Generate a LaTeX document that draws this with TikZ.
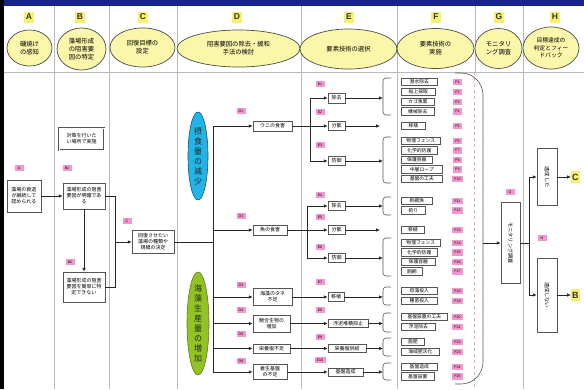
\documentclass[tikz,border=0pt]{standalone}
\usepackage{fontspec}
\setmainfont{Noto Sans CJK JP}
\newfontfamily\latinsans{Liberation Sans}
\usetikzlibrary{arrows.meta,shapes.geometric}
\definecolor{hdrblue}{RGB}{25,35,140}
\definecolor{ellyel}{RGB}{250,246,170}
\definecolor{tagyel}{RGB}{246,240,110}
\definecolor{tagpink}{RGB}{242,150,205}
\definecolor{gridgray}{RGB}{185,185,185}
\definecolor{boxgray}{RGB}{85,85,85}
\definecolor{bluefill}{RGB}{35,180,230}
\definecolor{blueline}{RGB}{20,80,150}
\definecolor{greenfill}{RGB}{145,195,35}
\definecolor{greenline}{RGB}{90,125,20}
\definecolor{pinkdash}{RGB}{240,160,200}
\begin{document}
\begin{tikzpicture}[x=1pt,y=-1pt,
  hdrell/.style={ellipse, draw=black!70, line width=0.7pt, fill=ellyel, inner sep=0pt, align=center, font=\fontsize{6.3}{8}\selectfont},
  hdrtag/.style={fill=tagyel, inner sep=0pt, minimum width=10pt, minimum height=11pt, font=\latinsans\bfseries\fontsize{8.5}{8.5}\selectfont, text=black!80},
  box/.style={draw=boxgray, line width=0.6pt, fill=white, inner sep=0.5pt, align=center, font=\fontsize{5}{6}\selectfont},
  fbox/.style={box, anchor=west, minimum height=7.5pt, font=\fontsize{4.8}{5.5}\selectfont},
  ptag/.style={fill=tagpink, inner sep=0pt, minimum width=9pt, minimum height=6.5pt, font=\latinsans\fontsize{3.6}{3.6}\selectfont},
  arr/.style={-{Latex[length=3.8pt,width=3.3pt]}, line width=0.6pt, draw=black!85},
  conn/.style={line width=0.6pt, draw=black!85},
  brk/.style={line width=0.6pt, draw=boxgray, rounded corners=3pt},
  vtext/.style={align=center, font=\fontsize{8}{10}\selectfont, text=black!85, inner sep=0pt},
  rottext/.style={rotate=-90, font=\fontsize{5.2}{6}\selectfont, inner sep=0pt},
  endlet/.style={fill=tagyel, inner sep=1pt, minimum height=12pt, anchor=west, font=\latinsans\bfseries\fontsize{9}{9}\selectfont, text=black!80}
]
\useasboundingbox (0,0) rectangle (584,389);
\fill[white] (0,0) rectangle (584,389);
\fill[hdrblue] (0,0) rectangle (584,6);
% grid
\foreach \x in {54,109,177,301,397,523} \draw[gridgray, line width=0.6pt] (\x,6) -- (\x,389);
\draw[gridgray, line width=0.6pt] (475,6) -- (475,72);
\draw[pinkdash, dashed, line width=0.6pt] (474,72) -- (474,389);
\draw[gridgray, line width=0.6pt] (4,72) -- (584,72);
\fill[black] (0,0) rectangle (4,389);

% header
\node[hdrtag] (tA) at (29,17) {A};
\node[hdrtag] (tB) at (80,17) {B};
\node[hdrtag] (tC) at (143,17) {C};
\node[hdrtag] (tD) at (237,17) {D};
\node[hdrtag] (tE) at (349,17) {E};
\node[hdrtag] (tF) at (436,17) {F};
\node[hdrtag] (tG) at (499,17) {G};
\node[hdrtag] (tH) at (555,17) {H};
\node[hdrell, minimum width=45pt, minimum height=36pt] (hA) at (29.5,48) {磯焼け\\の感知};
\node[hdrell, minimum width=49pt, minimum height=42pt] (hB) at (81.5,49) {藻場形成\\の阻害要\\因の特定};
\node[hdrell, minimum width=65pt, minimum height=39pt] (hC) at (142.5,47.5) {回復目標の\\設定};
\node[hdrell, minimum width=123pt, minimum height=37pt] (hD) at (238.5,48.5) {阻害要因の除去・緩和\\手法の検討};
\node[hdrell, minimum width=97pt, minimum height=40pt] (hE) at (348.5,49) {要素技術の選択};
\node[hdrell, minimum width=77pt, minimum height=40pt] (hF) at (435.5,48.5) {要素技術の\\実施};
\node[hdrell, minimum width=47pt, minimum height=40pt] (hG) at (498.5,48.5) {モニタリ\\ング調査};
\node[hdrell, minimum width=56pt, minimum height=42pt, font=\fontsize{5.8}{7.5}\selectfont] (hH) at (551,48) {目標達成の\\判定とフィー\\ドバック};

% A, B, C columns
\node[ptag] (pA) at (19,168) {A};
\node[box, minimum width=34pt, minimum height=32pt] (Abox) at (24,196) {藻場の衰退\\が継続して\\認められる};
\node[box, double, double distance=0.7pt, minimum width=45pt, minimum height=22pt] (note) at (81.5,139) {対策を行いた\\い場所で実施};
\node[ptag] (pB1) at (67,168) {B1};
\node[box, minimum width=42pt, minimum height=26pt] (B1) at (84,196) {藻場形成の阻害\\要因が明確であ\\る};
\node[ptag] (pB2) at (70,262) {B2};
\node[box, minimum width=42pt, minimum height=30pt] (B2) at (84,287) {藻場形成の阻害\\要因を簡単に特\\定できない};
\node[ptag] (pC) at (127,221) {C};
\node[box, minimum width=42pt, minimum height=23pt] (Cbox) at (153,242) {回復させたい\\藻場の種類や\\規模の決定};
\coordinate (cj) at (115,242);
\draw[arr] (Abox.east) -- (B1.west);
\draw[arr] (B1.south) -- (B2.north);
\draw[conn] (B1.east) -| (cj);
\draw[conn] (B2.east) -| (cj);
\draw[arr] (cj) -- (Cbox.west);

% D column
\node[ellipse, draw=blueline, fill=bluefill, line width=0.6pt, minimum width=20pt, minimum height=88pt, inner sep=0pt] (ellB) at (198,156) {};
\node[vtext] (ellBt) at (ellB) {摂\\食\\量\\の\\減\\少};
\node[ellipse, draw=greenline, fill=greenfill, line width=0.6pt, minimum width=22pt, minimum height=103pt, inner sep=0pt] (ellG) at (198,323.5) {};
\node[vtext] (ellGt) at (ellG) {海\\藻\\生\\産\\量\\の\\増\\加};

\node[ptag] (pD1) at (241,111) {D1};
\node[box, minimum width=39pt, minimum height=10pt] (D1) at (272.5,126) {ウニの食害};
\node[ptag] (pD2) at (241,216) {D2};
\node[box, minimum width=34pt, minimum height=10pt] (D2) at (270,230) {魚の食害};
\node[ptag] (pD3) at (241,285) {D3};
\node[box, minimum width=39pt, minimum height=17pt] (D3) at (272.5,297) {海藻のタネ\\不足};
\node[ptag] (pD4) at (241,310) {D4};
\node[box, minimum width=37pt, minimum height=17pt] (D4) at (271.5,323.5) {競合生物の\\増加};
\node[ptag] (pD5) at (241,334) {D5};
\node[box, minimum width=37pt, minimum height=9pt] (D5) at (271.5,348.5) {栄養塩不足};
\node[ptag] (pD6) at (241,361) {D6};
\node[box, minimum width=34pt, minimum height=15pt] (D6) at (270,372) {着生基盤\\の不足};

\coordinate (dj) at (213,242);
\coordinate (dtop) at (213,126);
\coordinate (dbot) at (213,372);
\draw[conn] (Cbox.east) -- (dj);
\draw[conn] (dtop) -- (dbot);
\draw[arr] (dtop) -- (D1.west);
\draw[arr] (D2.west -| dtop) -- (D2.west);
\draw[arr] (D3.west -| dtop) -- (D3.west);
\draw[arr] (D4.west -| dtop) -- (D4.west);
\draw[arr] (D5.west -| dtop) -- (D5.west);
\draw[arr] (dbot) -- (D6.west);

% E column
\node[ptag] (pE1) at (320,84) {E1};
\node[box, minimum width=17pt, minimum height=10pt] (E1) at (336.5,98) {除去};
\node[ptag] (pE2) at (320,112) {E2};
\node[box, minimum width=17pt, minimum height=9pt] (E2) at (336.5,126) {分散};
\node[ptag] (pE3) at (320,145) {E3};
\node[box, minimum width=17pt, minimum height=9pt] (E3) at (336.5,161) {防御};
\node[ptag] (pE4) at (320,195) {E4};
\node[box, minimum width=17pt, minimum height=9pt] (E4) at (336.5,206) {除去};
\node[ptag] (pE5) at (320,217) {E5};
\node[box, minimum width=17pt, minimum height=9pt] (E5) at (336.5,230) {分散};
\node[ptag] (pE6) at (320,247) {E6};
\node[box, minimum width=17pt, minimum height=9pt] (E6) at (336.5,258) {防御};
\node[ptag] (pE7) at (320,282) {E7};
\node[box, minimum width=16pt, minimum height=9pt] (E7) at (336,297) {移植};
\node[ptag] (pE8) at (320,310) {E8};
\node[box, minimum width=40pt, minimum height=8pt] (E8) at (348,323.5) {浮泥堆積抑止};
\node[ptag] (pE9) at (320,337) {E9};
\node[box, minimum width=38pt, minimum height=8pt] (E9) at (347,348.5) {栄養塩供給};
\node[ptag, minimum width=11pt] (pE10) at (320,360) {E10};
\node[box, minimum width=35pt, minimum height=8pt] (E10) at (345.5,372) {基盤造成};

\coordinate (ex1) at (310,0);
\coordinate (ex2) at (307,0);
\draw[arr] (D1.east) -- (E2.west);
\draw[conn] (E1.west -| ex1) -- (E3.west -| ex1);
\draw[arr] (E1.west -| ex1) -- (E1.west);
\draw[arr] (E3.west -| ex1) -- (E3.west);
\draw[arr] (D2.east) -- (E5.west);
\draw[conn] (E4.west -| ex2) -- (E6.west -| ex2);
\draw[arr] (E4.west -| ex2) -- (E4.west);
\draw[arr] (E6.west -| ex2) -- (E6.west);
\draw[arr] (D3.east) -- (E7.west);
\draw[arr] (D4.east) -- (E8.west);
\draw[arr] (D5.east) -- (E9.west);
\draw[arr] (D6.east) -- (E10.west);

% F column items
\node[fbox, minimum width=36pt] (F1) at (401,82) {潜水除去};
\node[fbox, minimum width=34pt] (F2) at (401,92) {船上採取};
\node[fbox, minimum width=33pt] (F3) at (401,102) {カゴ漁業};
\node[fbox, minimum width=33pt] (F4) at (401,111.5) {機械除去};
\node[fbox, minimum width=24pt] (F5) at (401,126) {移殖};
\node[fbox, minimum width=39pt] (F6) at (401,141) {物理フェンス};
\node[fbox, minimum width=36pt] (F7) at (401,150.5) {化学的防護};
\node[fbox, minimum width=31pt] (F8) at (401,160) {保護容器};
\node[fbox, minimum width=41pt] (F9) at (401,169.5) {中層ロープ};
\node[fbox, minimum width=41pt] (F10) at (401,179) {基盤の工夫};
\node[fbox, minimum width=31pt] (F11) at (401,201) {刺網漁};
\node[fbox, minimum width=24pt] (F12) at (401,210.5) {釣り};
\node[fbox, minimum width=23pt] (F13) at (401,230) {移植};
\node[fbox, minimum width=39pt] (F14) at (401,243) {物理フェンス};
\node[fbox, minimum width=36pt] (F15) at (401,252.5) {化学的防護};
\node[fbox, minimum width=34pt] (F16) at (401,262) {保護容器};
\node[fbox, minimum width=21pt] (F17) at (401,271.5) {囲網};
\node[fbox, minimum width=36pt] (F18) at (401,291) {母藻投入};
\node[fbox, minimum width=36pt] (F19) at (401,301) {種苗投入};
\node[fbox, minimum width=46pt] (F20) at (401,317) {基盤設置の工夫};
\node[fbox, minimum width=34pt] (F21) at (401,327) {浮泥除去};
\node[fbox, minimum width=23pt] (F22) at (401,342) {施肥};
\node[fbox, minimum width=38pt] (F23) at (401,352) {海域肥沃化};
\node[fbox, minimum width=36pt] (F24) at (401,367) {基盤造成};
\node[fbox, minimum width=33pt] (F25) at (401,376.5) {基盤設置};
\foreach \i/\yy in {1/82,2/92,3/102,4/111.5,5/126,6/141,7/150.5,8/160,9/169.5} \node[ptag] (pF\i) at (457.5,\yy) {F\i};
\foreach \i/\yy in {10/179,11/201,12/210.5,13/230,14/243,15/252.5,16/262,17/271.5,18/291,19/301,20/317,21/327,22/342,23/352,24/367,25/376.5} \node[ptag, minimum width=11pt] (pF\i) at (457.5,\yy) {F\i};

% brackets
\draw[brk] (391,78) -- (383,78) -- (383,115) -- (391,115);
\draw[brk] (391,137) -- (383,137) -- (383,183) -- (391,183);
\draw[brk] (391,197) -- (383,197) -- (383,215) -- (391,215);
\draw[brk] (391,238) -- (383,238) -- (383,276) -- (391,276);
\draw[brk] (391,287) -- (383,287) -- (383,305) -- (391,305);
\draw[brk] (391,313) -- (383,313) -- (383,332) -- (391,332);
\draw[brk] (391,338) -- (383,338) -- (383,356) -- (391,356);
\draw[brk] (391,363) -- (383,363) -- (383,380) -- (391,380);
\coordinate (fx) at (383,0);
\draw[arr] (E1.east) -- (E1.east -| fx);
\draw[arr] (E2.east) -- ([xshift=-21pt]F5.west);
\draw[arr] (E3.east) -- (E3.east -| fx);
\draw[arr] (E4.east) -- (E4.east -| fx);
\draw[arr] (E5.east) -- ([xshift=-21pt]F13.west);
\draw[arr] (E6.east) -- (E6.east -| fx);
\draw[arr] (E7.east) -- (E7.east -| fx);
\draw[arr] (E8.east) -- (E8.east -| fx);
\draw[arr] (E9.east) -- (E9.east -| fx);
\draw[arr] (E10.east) -- (E10.east -| fx);

% big bracket
\draw[boxgray, line width=0.6pt, rounded corners=22pt] (455,73) -- (483,73) -- (483,384) -- (455,384);
\coordinate (bm) at (483,243);

% G, H
\node[ptag] (pG) at (510,192) {G};
\node[box, minimum width=19pt, minimum height=81pt] (Gbox) at (510.5,243) {};
\node[rottext] (Gt) at (Gbox) {モニタリング調査};
\draw[arr] (bm) -- (Gbox.west);
\coordinate (hj) at (529,243);
\draw[conn] (Gbox.east) -- (hj);
\node[box, minimum width=20pt, minimum height=57pt] (H1) at (547,177) {};
\node[rottext] (H1t) at (H1) {達成した};
\node[box, minimum width=20pt, minimum height=74pt] (H2) at (547,295) {};
\node[rottext] (H2t) at (H2) {達成しない};
\node[ptag] (pH) at (542,238) {H};
\draw[conn] (H1.west -| hj) -- (H2.west -| hj);
\draw[arr] (H1.west -| hj) -- (H1.west);
\draw[arr] (H2.west -| hj) -- (H2.west);
\node[endlet] (toC) at (571,177) {C};
\node[endlet] (toB) at (571,295) {B};
\draw[arr] (H1.east) -- (toC.west);
\draw[arr] (H2.east) -- (toB.west);
\end{tikzpicture}
\end{document}
